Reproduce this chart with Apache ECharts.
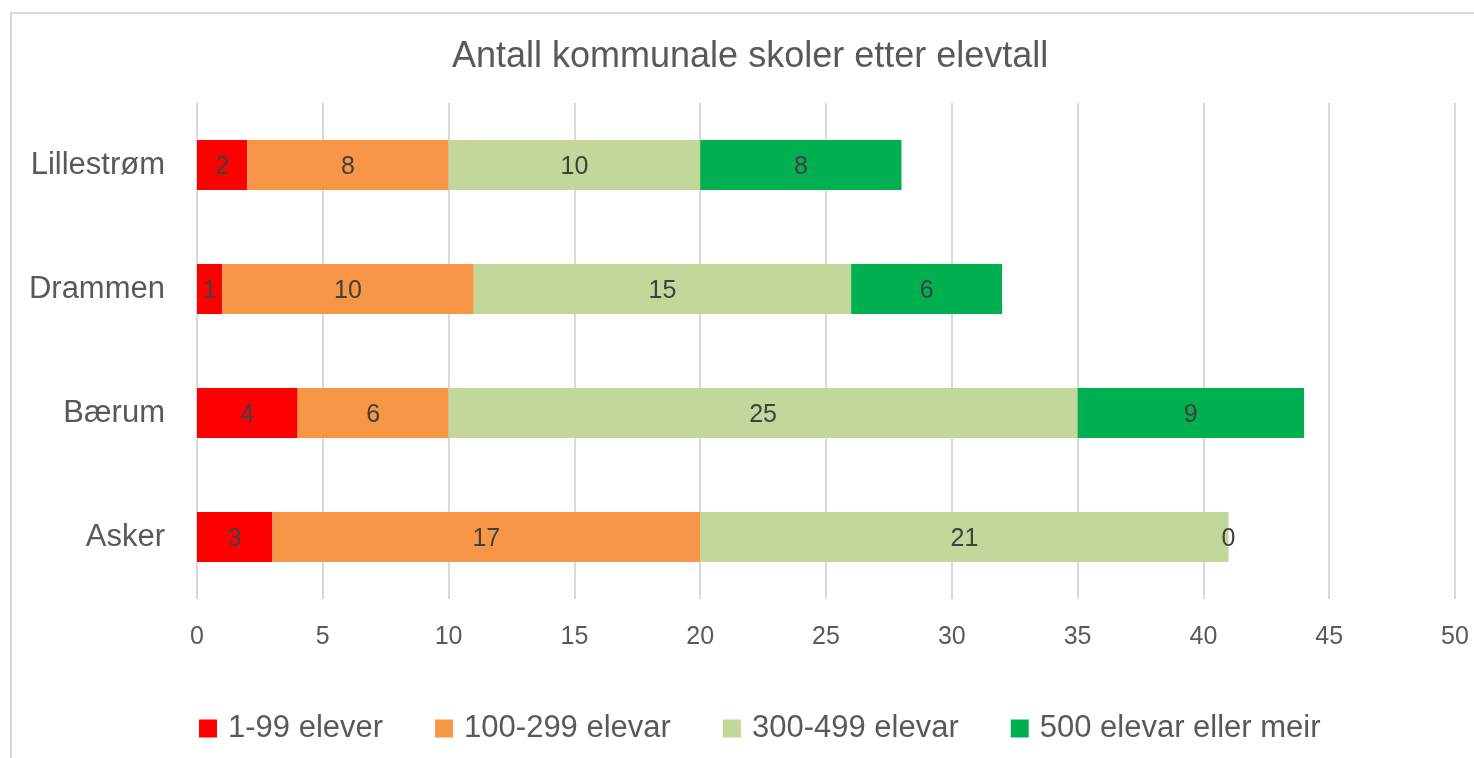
<!DOCTYPE html>
<html>
<head>
<meta charset="utf-8">
<script src="https://cdn.jsdelivr.net/npm/echarts@6/dist/echarts.min.js"></script>
<style>
html,body{margin:0;padding:0;background:#fff;}
#chart{width:1474px;height:758px;}
</style>
</head>
<body>
<div id="chart"></div>
<script>
const categories = ['Lillestrøm', 'Drammen', 'Bærum', 'Asker'];
const seriesNames = ['1-99 elever', '100-299 elevar', '300-499 elevar', '500 elevar eller meir'];
const values1_99 = [2, 1, 4, 3];
const values100_299 = [8, 10, 6, 17];
const values300_499 = [10, 15, 25, 21];
const values500 = [8, 6, 9, 0];
const xTicks = { min: 0, max: 50, interval: 5 };
const titleText = 'Antall kommunale skoler etter elevtall';

const colors = ['#FF0000', '#F79646', '#C4D79B', '#00B050'];
const allValues = [values1_99, values100_299, values300_499, values500];
const FONT = '"Liberation Sans", Arial, sans-serif';

const chart = echarts.init(document.getElementById('chart'), null, { renderer: 'canvas' });
chart.setOption({
  animation: false,
  backgroundColor: '#ffffff',
  color: colors,
  graphic: [{
    type: 'rect',
    shape: { x: 11, y: 13, width: 1480, height: 780 },
    style: { fill: 'none', stroke: '#d9d9d9', lineWidth: 2 },
    silent: true
  }],
  title: {
    text: titleText,
    left: 452,
    top: 39,
    padding: 0,
    textStyle: { fontFamily: FONT, fontSize: 36, fontWeight: 'normal', color: '#595959' }
  },
  legend: {
    data: seriesNames,
    left: 199,
    top: 713,
    padding: 0,
    itemWidth: 18,
    itemHeight: 18,
    itemGap: 52,
    icon: 'rect',
    textStyle: { fontFamily: FONT, fontSize: 31, color: '#595959', padding: [0, 0, 0, 6] }
  },
  grid: { left: 197, right: 19, top: 103, bottom: 159, containLabel: false },
  xAxis: {
    type: 'value',
    min: xTicks.min,
    max: xTicks.max,
    interval: xTicks.interval,
    axisLine: { show: false },
    axisTick: { show: false },
    splitLine: { show: true, lineStyle: { color: '#d9d9d9', width: 2 } },
    axisLabel: { margin: 26, fontFamily: FONT, fontSize: 25, color: '#595959' }
  },
  yAxis: {
    type: 'category',
    data: categories,
    inverse: true,
    axisLine: { show: false },
    axisTick: { show: false },
    axisLabel: { margin: 32, fontFamily: FONT, fontSize: 31, color: '#595959' }
  },
  series: seriesNames.map((name, i) => ({
    name: name,
    type: 'bar',
    stack: 'total',
    barWidth: 50,
    data: allValues[i],
    itemStyle: { color: colors[i] },
    label: {
      show: true,
      position: 'inside',
      offset: [0, 2],
      fontFamily: FONT,
      fontSize: 25,
      color: '#404040'
    }
  }))
});
</script>
</body>
</html>
